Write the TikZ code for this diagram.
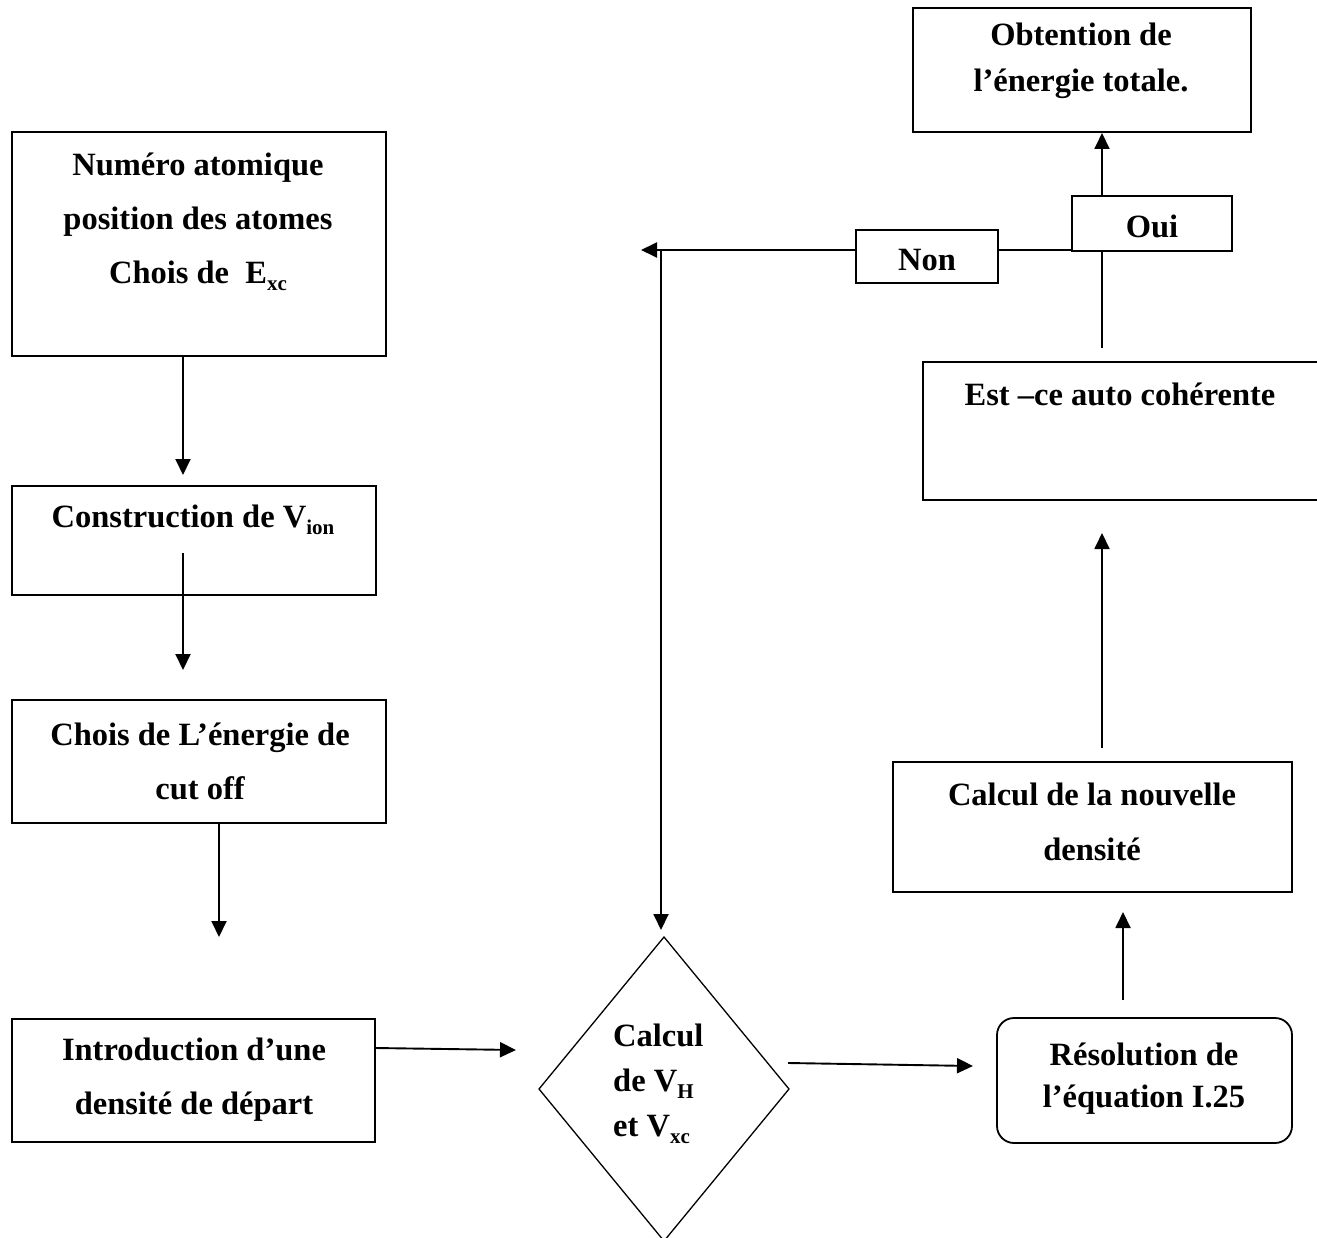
\documentclass[tikz,border=0pt]{standalone}
\usepackage{fontspec}
\setmainfont{Liberation Serif}
\usetikzlibrary{shapes.geometric,arrows.meta}
\newcommand\sbs[1]{\raisebox{-0.22em}{\fontsize{21}{21}\selectfont\bfseries #1}}
\begin{document}
\begin{tikzpicture}[x=1pt,y=-1pt,
 box/.style={draw,line width=1.8pt,inner sep=0pt,outer sep=0pt},
 lbl/.style={inner sep=0pt,align=center,font=\fontsize{32.5}{54}\selectfont\bfseries},
 arr/.style={line width=1.9pt,-{Triangle[length=16pt,width=15pt]}},
 ln/.style={line width=1.9pt}]
\useasboundingbox (0,0) rectangle (1317,1238);

% boxes
\node[box,minimum width=374pt,minimum height=224pt] (A) at (199,244) {};
\node[box,minimum width=364pt,minimum height=109pt] (B) at (194,540.5) {};
\node[box,minimum width=374pt,minimum height=123pt] (C) at (199,761.5) {};
\node[box,minimum width=363pt,minimum height=123pt] (D) at (193.5,1080.5) {};
\node[draw,diamond,line width=1.3pt,inner sep=0pt,outer sep=0pt,minimum width=250pt,minimum height=304pt] (E) at (664,1089) {};
\node[box,rounded corners=17pt,minimum width=295pt,minimum height=125pt] (F) at (1144.5,1080.5) {};
\node[box,minimum width=399pt,minimum height=130pt] (G) at (1092.5,827) {};
\node[box,minimum width=402pt,minimum height=138pt] (H) at (1124,431) {};
\node[box,minimum width=160pt,minimum height=55pt] (oui) at (1152,223.5) {};
\node[box,minimum width=142pt,minimum height=53pt] (non) at (927,256.5) {};
\node[box,minimum width=338pt,minimum height=124pt] (I) at (1082,70) {};

% labels
\node[lbl] (tA) at (198,222) {Numéro atomique\\position des atomes\\Chois de\ \ E\sbs{xc}};
\node[lbl] (tB) at (193,520) {Construction de V\sbs{ion}};
\node[lbl] (tC) at (200,761) {Chois de L’énergie de\\cut off};
\node[lbl] (tD) at (194,1080) {Introduction d’une\\densité de départ};
\node[lbl,align=left,anchor=west,font=\fontsize{32.5}{45}\selectfont\bfseries] (tE) at (613,1084) {Calcul\\de V\sbs{H}\\et V\sbs{xc}};
\node[lbl,font=\fontsize{32.5}{42}\selectfont\bfseries] (tF) at (1144,1079) {Résolution de\\l’équation I.25};
\node[lbl,font=\fontsize{32.5}{55}\selectfont\bfseries] (tG) at (1092,822) {Calcul de la nouvelle\\densité};
\node[lbl] (tH) at (1120,394) {Est –ce auto cohérente};
\node[lbl] (tOui) at (1152,226) {Oui};
\node[lbl] (tNon) at (927,260) {Non};
\node[lbl,font=\fontsize{32.5}{46}\selectfont\bfseries] (tI) at (1081,61) {Obtention de\\l’énergie totale.};

% connector end points
\coordinate (a1) at (183,356);  \coordinate (a2) at (183,475);
\coordinate (b1) at (183,553);  \coordinate (b2) at (183,670);
\coordinate (c1) at (219,823);  \coordinate (c2) at (219,937);
\coordinate (d1) at (375,1048); \coordinate (d2) at (516,1050);
\coordinate (e1) at (788,1063); \coordinate (e2) at (973,1066);
\coordinate (f1) at (1123,1000); \coordinate (f2) at (1123,912);
\coordinate (g1) at (1102,748); \coordinate (g2) at (1102,533);
\coordinate (h1) at (1102,348); \coordinate (h2) at (1102,251);
\coordinate (o1) at (1102,196); \coordinate (o2) at (1102,133);
\coordinate (n1) at (1072,250); \coordinate (n2) at (998,250);
\coordinate (n3) at (856,250);  \coordinate (n4) at (641,250);
\coordinate (v1) at (661,250);  \coordinate (v2) at (661,930);

% connectors
\draw[arr] (a1) -- (a2);
\draw[arr] (b1) -- (b2);
\draw[arr] (c1) -- (c2);
\draw[arr] (d1) -- (d2);
\draw[arr] (e1) -- (e2);
\draw[arr] (f1) -- (f2);
\draw[arr] (g1) -- (g2);
\draw[ln] (h1) -- (h2);
\draw[arr] (o1) -- (o2);
\draw[ln] (n1) -- (n2);
\draw[arr] (n3) -- (n4);
\draw[arr] (v1) -- (v2);
\end{tikzpicture}
\end{document}
